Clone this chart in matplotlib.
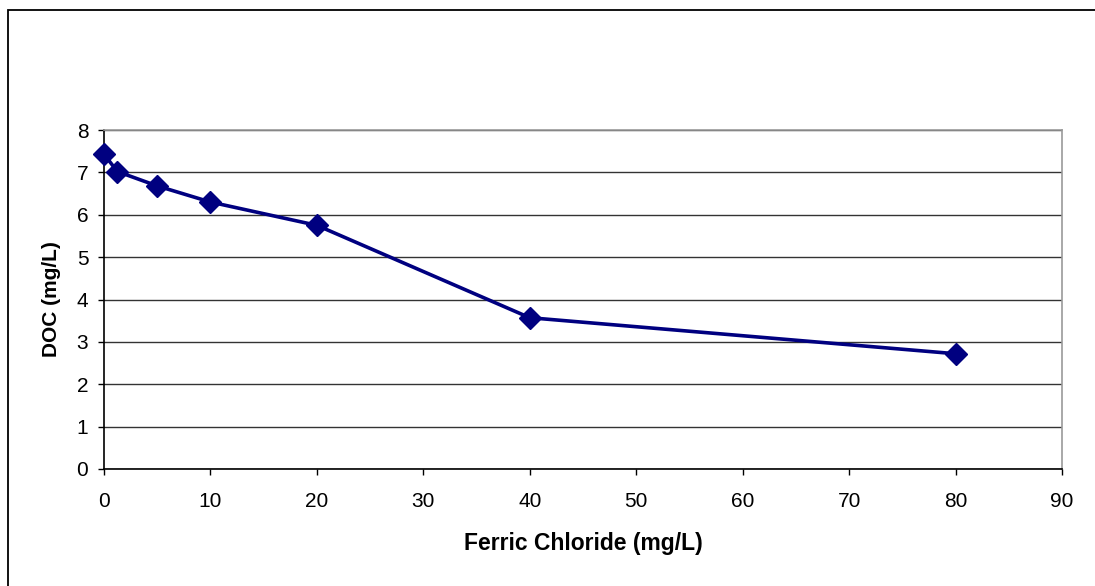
import matplotlib
matplotlib.use("Agg")
import matplotlib.pyplot as plt
from matplotlib.patches import Rectangle

# Ferric chloride dose vs. dissolved organic carbon
ferric_chloride = [0, 1.25, 5, 10, 20, 40, 80]
doc = [7.43, 7.02, 6.68, 6.3, 5.75, 3.57, 2.72]

x_ticks = list(range(0, 100, 10))
y_ticks = list(range(0, 9))

plt.rcParams["font.family"] = ["Liberation Sans", "DejaVu Sans"]

fig = plt.figure(figsize=(10.95, 5.86), dpi=100)
ax = fig.add_axes([104 / 1095, 1 - 469 / 586, (1062 - 104) / 1095, (469 - 130) / 586])

# outer chart frame (right and bottom edges run past the canvas)
fig.patches.append(Rectangle((8 / 1095, -0.1), 1.2, 1 - 10 / 586 + 0.1,
                             transform=fig.transFigure, fill=False,
                             edgecolor="black", linewidth=1.3, zorder=0))

ax.plot(ferric_chloride, doc, color="#000080", linewidth=2.6,
        marker="D", markersize=11, markerfacecolor="#000080",
        markeredgecolor="#000080", clip_on=False, zorder=5)

ax.set_xlim(0, 90)
ax.set_ylim(0, 8)
ax.set_xticks(x_ticks)
ax.set_yticks(y_ticks)
ax.tick_params(direction="out", length=4.3, width=1, labelsize=15,
               colors="black")
ax.tick_params(axis="x", pad=12.5)
ax.tick_params(axis="y", pad=7)

ax.yaxis.grid(True, color="#333333", linewidth=1)
ax.set_axisbelow(True)

for side in ("left", "bottom"):
    ax.spines[side].set_color("black")
    ax.spines[side].set_linewidth(1.2)
for side in ("top", "right"):
    ax.spines[side].set_color("#999999")
    ax.spines[side].set_linewidth(1.2)

ax.set_xlabel("Ferric Chloride (mg/L)", fontsize=16.5, fontweight="bold", labelpad=15)
ax.set_ylabel("DOC (mg/L)", fontsize=15, fontweight="bold", labelpad=11)

fig.savefig("out.png", dpi=100, facecolor="white")
